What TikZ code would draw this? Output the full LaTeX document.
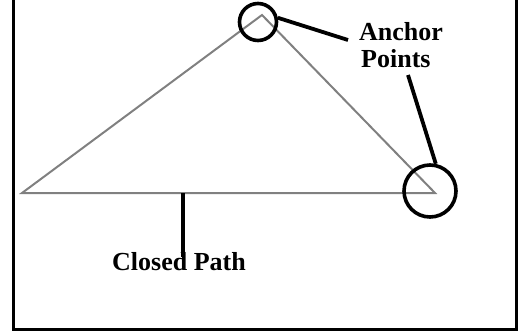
\documentclass[tikz,border=0pt]{standalone}
\usepackage{fontspec}
\setmainfont{Liberation Serif}
\begin{document}
\begin{tikzpicture}[x=1pt,y=-1pt,
  pathline/.style={draw=black!50,line width=2pt,line join=miter},
  leader/.style={draw=black,line width=3.8pt},
  ring/.style={circle,draw=black,line width=3.6pt,inner sep=0pt,minimum size=#1},
  label/.style={font=\bfseries\fontsize{26}{27}\selectfont,inner sep=0pt,anchor=base west},
  frameline/.style={draw=black,line width=3pt}]
  \useasboundingbox (0,0) rectangle (518,335);
  % outer frame (open at the top)
  \draw[frameline] (13,0) -- (13,329) -- (516,329) -- (516,0);
  % the closed triangular path
  \coordinate (left) at (22,193);
  \coordinate (apex) at (262,15);
  \coordinate (right) at (435,193);
  \draw[pathline] (left) -- (apex) -- (right) -- cycle;
  % rings around two anchor points
  \node[ring=37pt] (topring) at (258,22) {};
  \node[ring=52pt] (rightring) at (430,191) {};
  % labels
  \node[label] (anchor) at (359,40) {Anchor};
  \node[label] (points) at (361,67) {Points};
  \node[label] (closed) at (112,270) {Closed Path};
  % leaders
  \coordinate (topend) at (348,40);
  \coordinate (rightend) at (408,75);
  \coordinate (basept) at (183,193);
  \coordinate (closedtop) at (183,257);
  \draw[leader] (topring.12) -- (topend);
  \draw[leader] (rightend) -- (rightring.78);
  \draw[leader] (basept) -- (closedtop);
\end{tikzpicture}
\end{document}
